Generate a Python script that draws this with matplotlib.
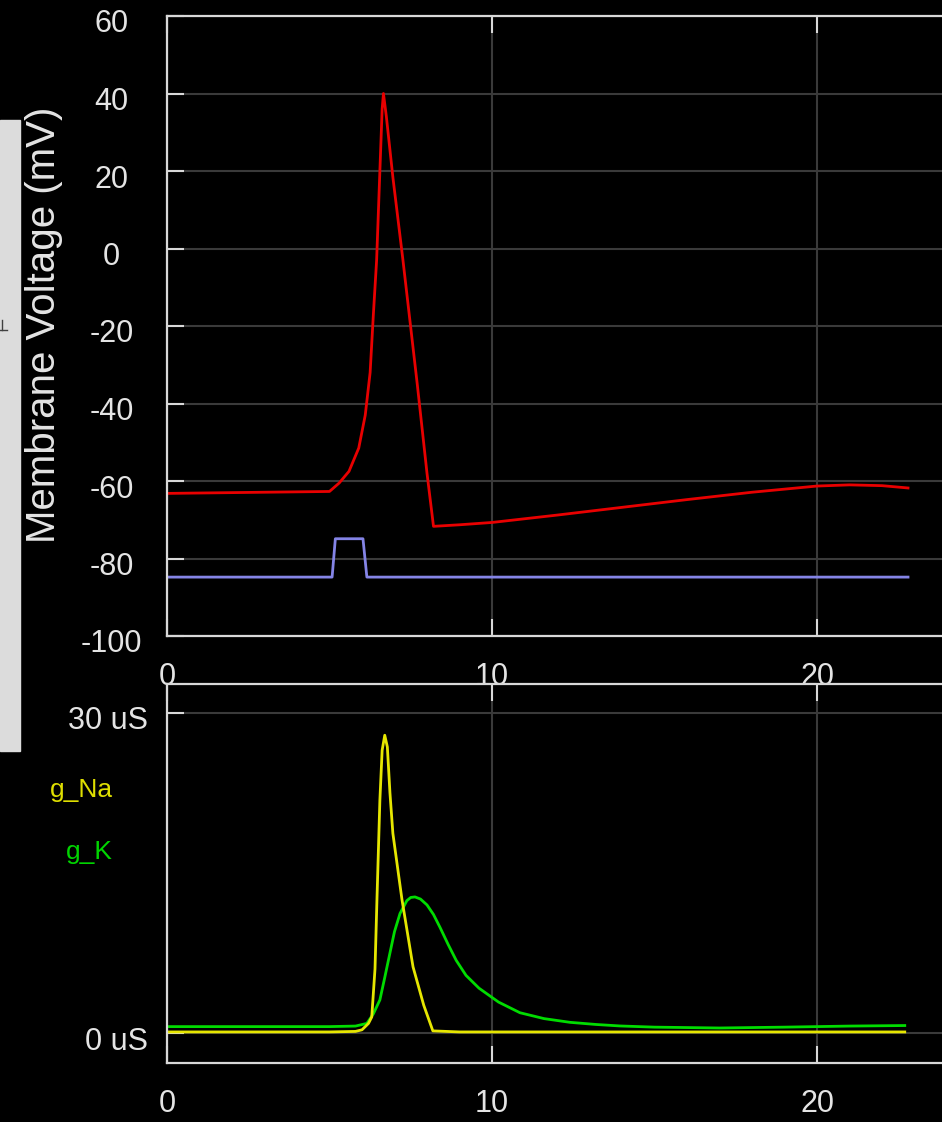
import matplotlib
matplotlib.use("Agg")
import matplotlib.pyplot as plt
import matplotlib.transforms as mtransforms
from matplotlib.patches import Rectangle
from matplotlib.lines import Line2D

# membrane voltage (ms, mV)
t_v = [0, 1, 2, 3, 4, 5.0, 5.3, 5.6, 5.9, 6.1, 6.25, 6.35, 6.45, 6.55, 6.62, 6.66,
       6.75, 6.95, 7.26, 7.7, 8.0, 8.2, 9, 10, 12, 14, 16, 18, 20, 21, 22, 22.8]
v_mem = [-63.2, -63.1, -63.0, -62.9, -62.8, -62.7, -60.5, -57.5, -51.5, -43, -32, -17, -3,
         20, 36, 40, 34, 18.4, -3, -35, -58, -71.7, -71.3, -70.7, -68.8, -66.8, -64.8,
         -62.9, -61.3, -61.0, -61.2, -61.8]

# stimulus trace on the voltage axis
t_stim = [0, 5.08, 5.18, 6.03, 6.15, 22.8]
v_stim = [-84.8, -84.8, -74.9, -74.9, -84.8, -84.8]

# conductances (ms, uS)
t_na = [0, 5, 5.8, 6.0, 6.2, 6.3, 6.4, 6.46, 6.55, 6.62, 6.7, 6.78, 6.86, 6.95, 7.23,
        7.57, 7.9, 8.18, 9, 12, 16, 20, 22.7]
g_na = [0.1, 0.1, 0.15, 0.3, 0.9, 1.5, 6, 12.5, 21.8, 26.5, 27.9, 26.8, 22.5, 18.7, 12.5,
        6.2, 2.6, 0.2, 0.1, 0.1, 0.1, 0.1, 0.1]

t_k = [0, 5, 5.8, 6.15, 6.35, 6.55, 6.7, 6.86, 7.0, 7.17, 7.38, 7.5, 7.63, 7.8, 8.0, 8.2,
       8.4, 8.65, 8.9, 9.2, 9.6, 10.2, 10.86, 11.6, 12.4, 13.2, 13.94, 15, 17, 19, 21, 22.7]
g_k = [0.6, 0.6, 0.65, 0.9, 1.8, 3.1, 5.2, 7.5, 9.5, 11.2, 12.4, 12.7, 12.75, 12.55, 12.0,
       11.1, 9.9, 8.3, 6.8, 5.4, 4.2, 2.9, 1.9, 1.35, 1.0, 0.8, 0.66, 0.55, 0.47, 0.55, 0.65, 0.7]

v_ticks = [-100, -80, -60, -40, -20, 0, 20, 40, 60]
g_ticks = [0, 30]
g_tick_labels = ["0 uS", "30 uS"]
t_ticks = [0, 10, 20]

W, H = 942, 1122
plt.rcParams['font.family'] = ['Liberation Sans', 'DejaVu Sans']

fig = plt.figure(figsize=(W / 100, H / 100), dpi=100, facecolor='black')

x_max = (W - 167) / 32.5
ax1 = fig.add_axes([167 / W, 1 - 636 / H, (W - 167) / W, (636 - 16) / H])
ax2 = fig.add_axes([167 / W, 1 - 1063 / H, (W - 167) / W, (1063 - 684) / H])

down = mtransforms.ScaledTranslation(0, -0.05, fig.dpi_scale_trans)


def style_axes(ax):
    ax.set_facecolor('black')
    for side in ['left', 'top', 'bottom']:
        ax.spines[side].set_color('#d8d8d8')
        ax.spines[side].set_linewidth(1.6)
    ax.spines['right'].set_visible(False)
    ax.tick_params(direction='in', length=12, width=1.5, color='#d8d8d8',
                   labelcolor='#e4e4e4', labelsize=22, top=True)
    ax.tick_params(axis='x', pad=19)
    ax.grid(True, color='#3a3a3a', linewidth=1.5)
    ax.set_axisbelow(True)
    ax.set_xlim(0, x_max)
    ax.set_xticks(t_ticks)


style_axes(ax1)
ax1.plot(t_v, v_mem, color='#e80000', lw=2.0)
ax1.plot(t_stim, v_stim, color='#8484e6', lw=2.0)
ax1.set_ylim(-100, 60)
ax1.set_yticks(v_ticks, labels=[str(v) for v in v_ticks], ha='center')
ax1.tick_params(axis='y', pad=40)
for lab in ax1.get_yticklabels():
    lab.set_transform(lab.get_transform() + down)

style_axes(ax2)
ax2.plot(t_k, g_k, color='#00dc00', lw=2.0)
ax2.plot(t_na, g_na, color='#e6e600', lw=2.0)
ax2.set_ylim(-2.81, 32.7)
ax2.set_yticks(g_ticks, labels=g_tick_labels)
ax2.tick_params(axis='y', pad=14)
for lab in ax2.get_yticklabels():
    lab.set_transform(lab.get_transform() + down)

fig.text(44 / W, 1 - 325 / H, "Membrane Voltage (mV)", rotation=90,
         ha='center', va='center', color='#e4e4e4', fontsize=29)

fig.text(113 / W, 1 - 790 / H, "g_Na", color='#dede00', fontsize=19,
         ha='right', va='center')
fig.text(113 / W, 1 - 852 / H, "g_K", color='#00d400', fontsize=19,
         ha='right', va='center')

# sliver of a grey side panel on the left edge
fig.add_artist(Rectangle((0, 1 - 751 / H), 20 / W, (751 - 120) / H,
                         transform=fig.transFigure, color='#dcdcdc', zorder=0))
fig.add_artist(Line2D([0, 7 / W], [1 - 330 / H, 1 - 330 / H],
                      transform=fig.transFigure, color='#404040', lw=1))
fig.add_artist(Line2D([2 / W, 2 / W], [1 - 320 / H, 1 - 330 / H],
                      transform=fig.transFigure, color='#404040', lw=1))

fig.savefig("out.png", dpi=100, facecolor='black')
